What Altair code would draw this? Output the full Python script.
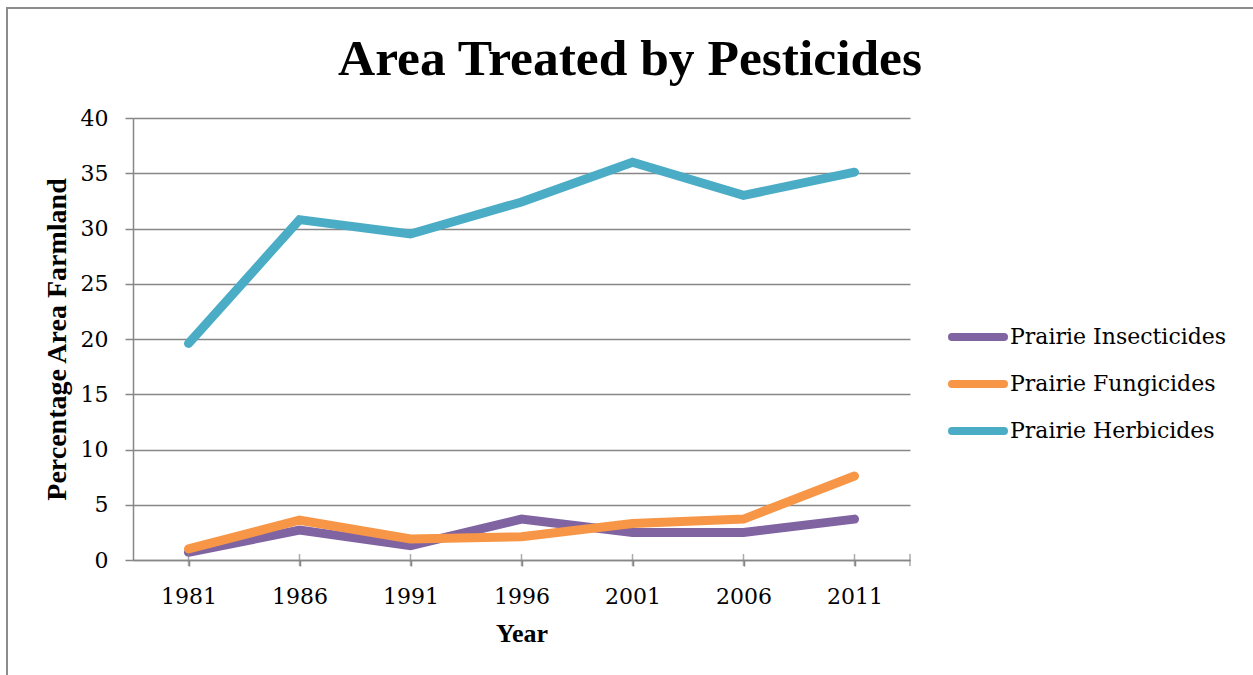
import altair as alt
import pandas as pd

# ---- data ----
years = ["1981", "1986", "1991", "1996", "2001", "2006", "2011"]
insecticides = [0.7, 2.7, 1.3, 3.7, 2.5, 2.5, 3.7]
fungicides = [1.0, 3.6, 1.9, 2.1, 3.3, 3.7, 7.6]
herbicides = [19.6, 30.8, 29.5, 32.4, 36.0, 33.0, 35.1]
series_names = ["Prairie Insecticides", "Prairie Fungicides", "Prairie Herbicides"]
series_colors = ["#8064A2", "#F79646", "#4BACC6"]
y_ticks = [0, 5, 10, 15, 20, 25, 30, 35, 40]
title_text = "Area Treated by Pesticides"

rows = []
for name, vals in zip(series_names, [insecticides, fungicides, herbicides]):
    for yr, v in zip(years, vals):
        rows.append({"Year": yr, "Value": v, "Series": name})
df = pd.DataFrame(rows)
years_df = pd.DataFrame({"Year": years})
leg_df = pd.DataFrame({"Series": series_names})
one_df = pd.DataFrame({"k": [0]})
title_df = pd.DataFrame({"t": [title_text]})

W, H = 777, 442
REG = "DejaVu Serif"
BOLD = "Liberation Serif"
GRAY = "#878787"

color = alt.Color("Series:N", scale=alt.Scale(domain=series_names, range=series_colors), legend=None)

x_axis = alt.Axis(
    title="Year", labelAngle=0, labelFont=REG, labelFontSize=22, labelColor="black",
    titleFont=BOLD, titleFontSize=26, titleFontWeight="bold", titleColor="black",
    titleY=81, titleBaseline="alphabetic",
    tickSize=6, tickColor=GRAY, tickWidth=1.5, domainColor=GRAY, domainWidth=1.5,
    labelPadding=20, grid=False,
)
x_enc = alt.X("Year:O", sort=years, scale=alt.Scale(type="point", padding=0.5), axis=x_axis)

y_enc = alt.Y(
    "Value:Q", scale=alt.Scale(domain=[0, 40], nice=False),
    axis=alt.Axis(
        values=y_ticks, title="Percentage Area Farmland",
        labelFont=REG, labelFontSize=22, labelColor="black", labelPadding=17,
        titleFont=BOLD, titleFontSize=28, titleFontWeight="bold", titleColor="black",
        titleAngle=270, titleX=-76, titleY=H / 2, titleBaseline="middle", titleAlign="center",
        tickSize=8, tickColor=GRAY, tickWidth=1.5, domainColor=GRAY, domainWidth=1.5,
        grid=True, gridColor=GRAY, gridWidth=1.5,
    ),
)

frame = alt.Chart(one_df).mark_rect(fillOpacity=0, stroke="#8c8c8c", strokeWidth=2).encode(
    x=alt.value(-126), x2=alt.value(1140), y=alt.value(-110), y2=alt.value(580)
)

title = alt.Chart(title_df).mark_text(
    align="center", baseline="alphabetic", font=BOLD, fontSize=51.5, fontWeight="bold", color="black"
).encode(x=alt.value(497), y=alt.value(-43), text="t:N")

lines = alt.Chart(df).mark_line(strokeWidth=9, strokeCap="round").encode(
    x=x_enc, y=y_enc, color=color
)

xticks = alt.Chart(years_df).mark_tick(orient="vertical", size=12, thickness=1.5, color=GRAY).encode(
    x=x_enc, y=alt.value(H)
)
end_tick = alt.Chart(one_df).mark_tick(orient="vertical", size=12, thickness=1.5, color=GRAY).encode(
    x=alt.value(W), y=alt.value(H)
)

leg_y = alt.Y("Series:N", sort=series_names,
              scale=alt.Scale(type="point", domain=series_names, range=[219, 313], padding=0),
              axis=None)
leg_rules = alt.Chart(leg_df).mark_rule(strokeWidth=8, strokeCap="round").encode(
    x=alt.value(819), x2=alt.value(871), y=leg_y, color=color
)
leg_text = alt.Chart(leg_df).mark_text(align="left", baseline="middle", font=REG, fontSize=22, color="black").encode(
    x=alt.value(877), y=leg_y, text="Series:N"
)

chart = alt.layer(frame, title, lines, xticks, end_tick, leg_rules, leg_text).resolve_scale(
    y="independent"
).properties(
    width=W, height=H,
    autosize=alt.AutoSizeParams(type="none"),
    padding={"left": 133, "top": 118, "right": 343, "bottom": 115},
    background="white",
).configure_view(stroke=None)

chart.save("out.html", embed_options={"renderer": "svg", "actions": False})
